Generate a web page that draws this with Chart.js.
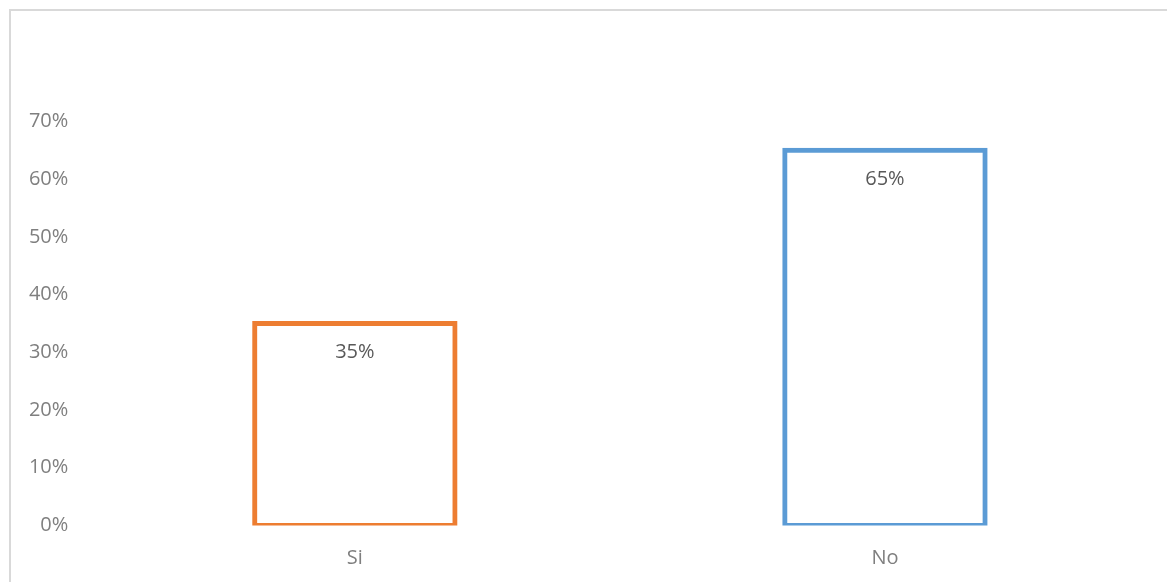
<!DOCTYPE html>
<html>
<head>
<meta charset="utf-8">
<script src="https://cdn.jsdelivr.net/npm/chart.js@4/dist/chart.umd.min.js"></script>
<style>
  html, body { margin: 0; padding: 0; background: #ffffff; }
  #wrap { width: 1167px; height: 582px; position: relative; }
</style>
</head>
<body>
<div id="wrap"><canvas id="c" width="1167" height="582"></canvas></div>
<script>
// Survey answers: share of respondents per answer
const categories = ['Si', 'No'];
const shares = [35, 65];
const barColors = ['#ED7D31', '#5B9BD5'];
const yTickMax = 70;
const yTickStep = 10;

const FONT = '"Open Sans", "Liberation Sans", sans-serif';

// Light frame around the chart (top and left edges)
const framePlugin = {
  id: 'frame',
  beforeDraw(chart) {
    const ctx = chart.ctx;
    ctx.save();
    ctx.fillStyle = '#ffffff';
    ctx.fillRect(0, 0, chart.width, chart.height);
    ctx.fillStyle = '#d9d9d9';
    ctx.fillRect(9, 9, chart.width - 9, 2);
    ctx.fillRect(9, 9, 2, chart.height - 9);
    ctx.restore();
  }
};

// Value labels just inside the top of each bar
const valueLabels = {
  id: 'valueLabels',
  afterDatasetsDraw(chart) {
    const ctx = chart.ctx;
    const meta = chart.getDatasetMeta(0);
    ctx.save();
    ctx.font = '20px ' + FONT;
    ctx.fillStyle = '#595959';
    ctx.textAlign = 'center';
    ctx.textBaseline = 'middle';
    meta.data.forEach((bar, i) => {
      const v = chart.data.datasets[0].data[i];
      ctx.fillText(v + '%', bar.x, bar.y + 29);
    });
    ctx.restore();
  }
};

new Chart(document.getElementById('c'), {
  type: 'bar',
  data: {
    labels: categories,
    datasets: [{
      data: shares,
      backgroundColor: '#ffffff',
      borderColor: barColors,
      borderWidth: 5,
      borderSkipped: false,
      inflateAmount: 2.5,
      barPercentage: 1,
      categoryPercentage: 0.378
    }]
  },
  options: {
    responsive: false,
    animation: false,
    devicePixelRatio: 1,
    layout: { padding: { left: 0, right: 17, top: 121.5, bottom: 16.5 } },
    plugins: {
      legend: { display: false },
      tooltip: { enabled: false },
      title: { display: false }
    },
    scales: {
      x: {
        grid: { display: false, drawTicks: false },
        border: { display: false },
        ticks: {
          color: '#7f7f7f',
          font: { family: FONT, size: 20 },
          padding: 21
        },
        afterFit(scale) { scale.height = 40; }
      },
      y: {
        min: 0,
        max: yTickMax,
        grid: { display: false, drawTicks: false },
        border: { display: false },
        ticks: {
          stepSize: yTickStep,
          color: '#7f7f7f',
          font: { family: FONT, size: 20 },
          padding: 21.5,
          callback: v => v + '%'
        },
        afterFit(scale) { scale.width = 89.8; }
      }
    }
  },
  plugins: [framePlugin, valueLabels]
});
</script>
</body>
</html>
